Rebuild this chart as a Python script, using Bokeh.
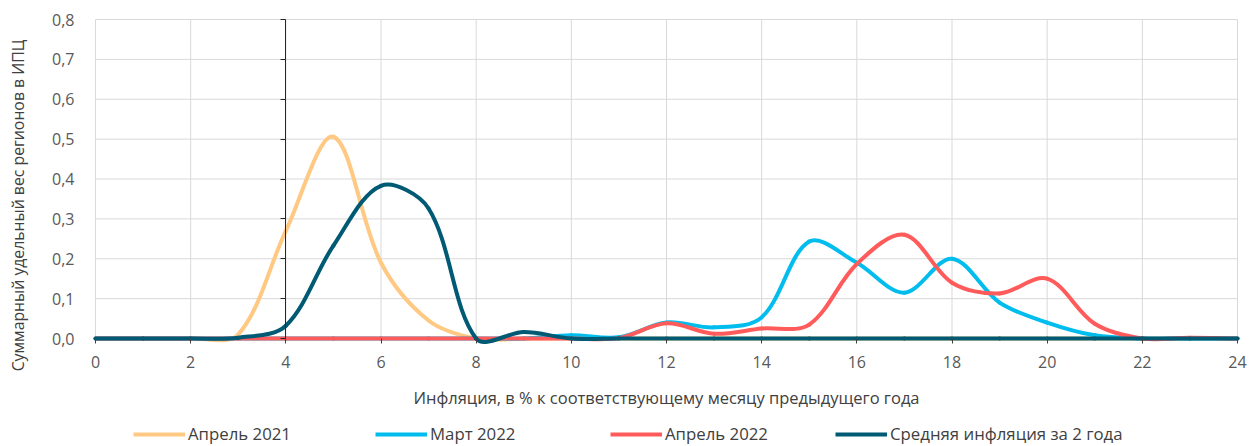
import math
from bokeh.plotting import figure
from bokeh.models import (Range1d, LinearAxis, FixedTicker, CustomJSTickFormatter,
                          Legend, LegendItem, Label)
from bokeh.embed import file_html
from bokeh.resources import INLINE

# ---------------- data ----------------
x_vals = list(range(0, 25))
apr2021 = [0, 0, 0, 0.01, 0.27, 0.506, 0.19, 0.045, 0, 0, 0, 0, 0, 0, 0, 0, 0, 0, 0, 0, 0, 0, 0, 0, 0]
mar2022 = [0, 0, 0, 0, 0, 0, 0, 0, 0, 0, 0.008, 0.003, 0.04, 0.028, 0.053, 0.243, 0.19, 0.115, 0.2, 0.09, 0.04, 0.008, 0, 0, 0]
apr2022 = [0, 0, 0, 0, 0, 0, 0, 0, 0, 0, 0, 0.001, 0.038, 0.012, 0.025, 0.035, 0.187, 0.26, 0.14, 0.113, 0.15, 0.037, 0, 0.002, 0]
avg2y = [0, 0, 0, 0.002, 0.032, 0.233, 0.383, 0.326, 0, 0.016, 0, 0, 0, 0, 0, 0, 0, 0, 0, 0, 0, 0, 0, 0, 0]

series_names = ["Апрель 2021", "Март 2022", "Апрель 2022", "Средняя инфляция за 2 года"]
series_vals = [apr2021, mar2022, apr2022, avg2y]
colors = ["#FFC983", "#00BDEE", "#FF5B5B", "#005A74"]

x_ticks = list(range(0, 25, 2))
y_ticks = [0.0, 0.1, 0.2, 0.3, 0.4, 0.5, 0.6, 0.7, 0.8]

FONT = "Open Sans"

# layout constants (pixels)
CW, CH = 1254, 446
PL, PR, PT, PB = 95, 17, 19, 108      # plot-area offsets inside the canvas
SX = (CW - PL - PR) / (x_ticks[-1] - x_ticks[0])   # px per x unit
SY = (CH - PT - PB) / (y_ticks[-1] - y_ticks[0])   # px per y unit

p = figure(frame_width=CW, frame_height=CH, output_backend="svg", toolbar_location=None,
           x_range=Range1d(x_ticks[0] - PL / SX, x_ticks[-1] + PR / SX),
           y_range=Range1d(y_ticks[0] - PB / SY, y_ticks[-1] + PT / SY),
           min_border=0, x_axis_type=None, y_axis_type=None)
p.outline_line_color = None
p.background_fill_color = "white"
p.border_fill_color = "white"

# grid lines (drawn from the tick lists)
p.segment(x0=x_ticks, y0=[y_ticks[0]] * len(x_ticks), x1=x_ticks, y1=[y_ticks[-1]] * len(x_ticks),
          line_color="#D9D9D9", line_width=1)
p.segment(x0=[x_ticks[0]] * len(y_ticks), y0=y_ticks, x1=[x_ticks[-1]] * len(y_ticks), y1=y_ticks,
          line_color="#D9D9D9", line_width=1)

# x axis at y=0
xa = LinearAxis(ticker=FixedTicker(ticks=x_ticks), fixed_location=0, bounds=(x_ticks[0], x_ticks[-1]))
xa.axis_line_color = None
xa.major_tick_line_color = "#404040"
xa.major_tick_out = 5
xa.major_tick_in = 0
xa.minor_tick_line_color = None
xa.major_label_text_font = FONT
xa.major_label_text_font_size = "16px"
xa.major_label_text_color = "#595959"
xa.major_label_standoff = 12
xa.axis_label = "Инфляция, в % к соответствующему месяцу предыдущего года"
xa.axis_label_text_font = FONT
xa.axis_label_text_font_size = "16.5px"
xa.axis_label_text_font_style = "normal"
xa.axis_label_text_color = "#404040"
xa.axis_label_standoff = 15
p.add_layout(xa, "below")

# y tick labels at x=0
ya = LinearAxis(ticker=FixedTicker(ticks=y_ticks), fixed_location=0, bounds=(y_ticks[0], y_ticks[-1]))
ya.axis_line_color = None
ya.major_tick_line_color = None
ya.minor_tick_line_color = None
ya.major_label_text_font = FONT
ya.major_label_text_font_size = "16px"
ya.major_label_text_color = "#595959"
ya.major_label_standoff = 15
ya.formatter = CustomJSTickFormatter(code="return tick.toFixed(1).replace('.', ',');")
p.add_layout(ya, "left")

# y axis line crossing at x=4
ya2 = LinearAxis(ticker=FixedTicker(ticks=y_ticks), fixed_location=4, bounds=(y_ticks[0], y_ticks[-1]))
ya2.axis_line_color = "#262626"
ya2.axis_line_width = 1
ya2.major_tick_line_color = "#262626"
ya2.major_tick_out = 5
ya2.major_tick_in = 0
ya2.minor_tick_line_color = None
ya2.major_label_text_font_size = "0px"
ya2.major_label_text_alpha = 0
ya2.major_label_standoff = 0
p.add_layout(ya2, "left")


def smooth(xs, ys):
    P = [(x * SX, y * SY) for x, y in zip(xs, ys)]
    n = len(P)
    out = dict(x0=[], y0=[], x1=[], y1=[], cx0=[], cy0=[], cx1=[], cy1=[])

    def d(a, b):
        return math.hypot(a[0] - b[0], a[1] - b[1])

    for i in range(n - 1):
        p0 = P[i - 1] if i > 0 else P[i]
        p1 = P[i]
        p2 = P[i + 1]
        p3 = P[i + 2] if i + 2 < n else P[i + 1]
        d01, d12, d23 = d(p0, p1), d(p1, p2), d(p2, p3)
        w1 = d12 / (d01 + d12) if d01 + d12 > 0 else 0.5
        w2 = d12 / (d12 + d23) if d12 + d23 > 0 else 0.5
        c1 = (p1[0] + (p2[0] - p0[0]) * w1 / 3, p1[1] + (p2[1] - p0[1]) * w1 / 3)
        c2 = (p2[0] - (p3[0] - p1[0]) * w2 / 3, p2[1] - (p3[1] - p1[1]) * w2 / 3)
        out["x0"].append(p1[0] / SX); out["y0"].append(p1[1] / SY)
        out["x1"].append(p2[0] / SX); out["y1"].append(p2[1] / SY)
        out["cx0"].append(c1[0] / SX); out["cy0"].append(c1[1] / SY)
        out["cx1"].append(c2[0] / SX); out["cy1"].append(c2[1] / SY)
    return out


legend_rs = []
for name, vals, col in zip(series_names, series_vals, colors):
    s = smooth(x_vals, vals)
    p.bezier(x0="x0", y0="y0", x1="x1", y1="y1", cx0="cx0", cy0="cy0", cx1="cx1", cy1="cy1",
             source=s, line_color=col, line_width=4, line_cap="round")
    r = p.line(x=x_vals, y=vals, line_color=col, line_width=4, visible=False)
    legend_rs.append(r)

# y axis title
p.add_layout(Label(x=x_ticks[0] - 78 / SX, y=y_ticks[-1] - 186 / SY,
                   text="Суммарный удельный вес регионов в ИПЦ",
                   angle=math.pi / 2, text_align="center", text_baseline="middle",
                   text_font=FONT, text_font_size="15.8px", text_color="#404040"))

# legends (one per series, placed like the original)
leg_x = [133, 375, 610, 835]
for name, r, lx in zip(series_names, legend_rs, leg_x):
    lg = Legend(items=[LegendItem(label=name, renderers=[r])], location=(lx, 1),
                orientation="horizontal", glyph_width=52, glyph_height=16, label_height=16,
                label_standoff=3, padding=0, margin=0, spacing=0,
                border_line_color=None, background_fill_alpha=0,
                label_text_font=FONT, label_text_font_size="16.8px", label_text_color="#404040")
    p.add_layout(lg, "center")

open("out.html", "w").write(file_html(p, INLINE))
